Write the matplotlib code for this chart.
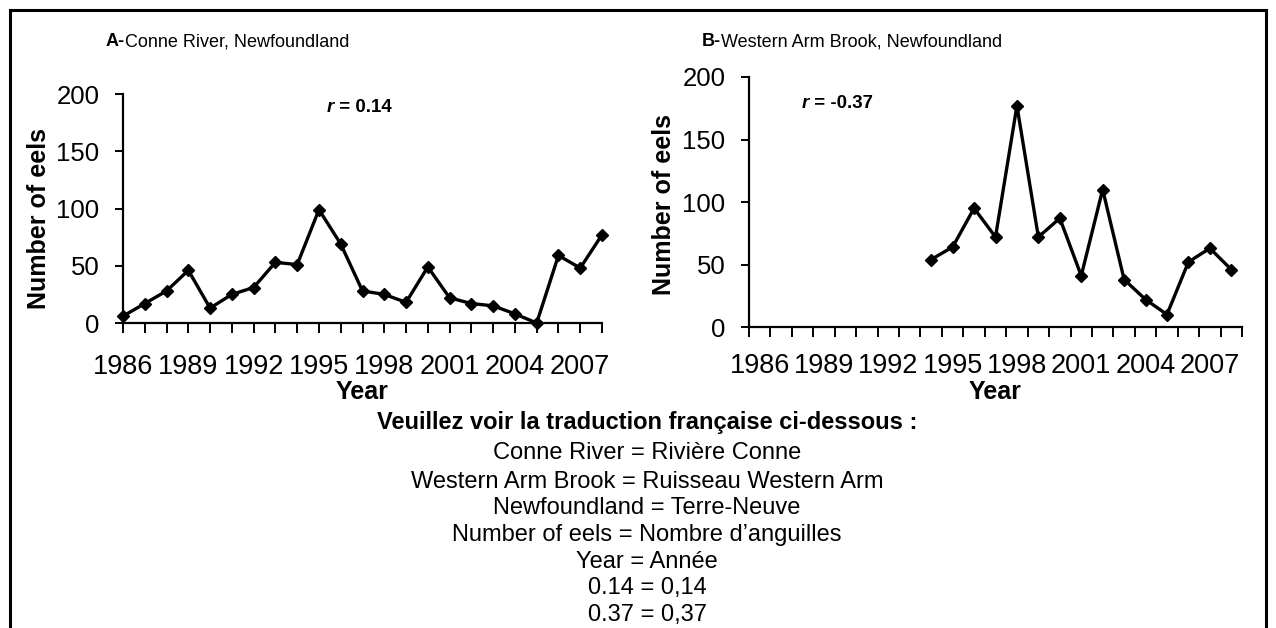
import matplotlib
matplotlib.use("Agg")
import matplotlib.pyplot as plt
from matplotlib.lines import Line2D

plt.rcParams["font.family"] = ["Liberation Sans", "DejaVu Sans"]

# ---- data ----
years_a = list(range(1986, 2009))
conne = [6, 17, 28, 46, 13, 25, 31, 53, 51, 99, 69, 28, 25, 18, 49, 22,
         17, 15, 8, 0, 59, 48, 77]

years_b = list(range(1994, 2009))
western = [54, 64, 95, 72, 177, 72, 87, 41, 110, 38, 22, 10, 52, 63, 46]

all_years = list(range(1986, 2009))
label_years = list(range(1986, 2008, 3))
y_ticks = [0, 50, 100, 150, 200]

titles = [("A-", "Conne River, Newfoundland"),
          ("B-", "Western Arm Brook, Newfoundland")]
r_texts = [" = 0.14", " = -0.37"]
y_label = "Number of eels"
x_label = "Year"

notes_bold = "Veuillez voir la traduction française ci-dessous :"
notes = [
    "Conne River = Rivière Conne",
    "Western Arm Brook = Ruisseau Western Arm",
    "Newfoundland = Terre-Neuve",
    "Number of eels = Nombre d\u2019anguilles",
    "Year = Année",
    "0.14 = 0,14",
    "0.37 = 0,37",
]

W, H = 1276, 628
fig = plt.figure(figsize=(W / 100, H / 100), dpi=100)
fig.patch.set_facecolor("white")


def px_box(left, right, top, bottom):
    return [left / W, 1 - bottom / H, (right - left) / W, (bottom - top) / H]


def style_axes(ax):
    for s in ("top", "right"):
        ax.spines[s].set_visible(False)
    for s in ("left", "bottom"):
        ax.spines[s].set_linewidth(1.6)
        ax.spines[s].set_color("black")
    ax.set_ylim(0, 200)
    ax.set_yticks(y_ticks)
    ax.tick_params(axis="y", direction="out", length=6, width=1.4,
                   labelsize=18.5, pad=11)
    ax.tick_params(axis="x", which="both", direction="out", width=1.4,
                   labelsize=19.5, pad=15)


# ---- panel A ----
ax_a = fig.add_axes(px_box(123, 602, 94, 323))
style_axes(ax_a)
ax_a.plot(years_a, conne, color="black", linewidth=2.4, marker="D",
          markersize=6.5, clip_on=False)
ax_a.set_xlim(1986, 2008)
ax_a.set_xticks(label_years)
ax_a.set_xticks(all_years, minor=True)
ax_a.set_xticklabels([str(y) for y in label_years])
ax_a.tick_params(axis="x", which="both", length=7)

# ---- panel B ----
ax_b = fig.add_axes(px_box(749, 1242, 77, 327))
style_axes(ax_b)
ax_b.plot(years_b, western, color="black", linewidth=2.4, marker="D",
          markersize=6.5, clip_on=False)
ax_b.set_xlim(all_years[0] - 0.5, all_years[-1] + 0.5)
ax_b.set_xticks(label_years)
ax_b.set_xticklabels([str(y) for y in label_years])
ax_b.set_xticks([y - 0.5 for y in all_years] + [all_years[-1] + 0.5],
                minor=True)
ax_b.tick_params(axis="x", which="major", length=0, pad=19)
ax_b.tick_params(axis="x", which="minor", length=7)

# axis labels
for ax in (ax_a, ax_b):
    ax.set_ylabel(y_label, fontsize=18, fontweight="bold")
    ax.set_xlabel(x_label, fontsize=18, fontweight="bold", va="center")
ax_a.xaxis.set_label_coords(0.5, (323 - 392) / 229)
ax_b.xaxis.set_label_coords(0.5, (327 - 392) / 250)
ax_a.yaxis.set_label_coords((51 - 123) / 479, 0.455)
ax_b.yaxis.set_label_coords((676 - 749) / 493, 0.49)

fig.canvas.draw()
renderer = fig.canvas.get_renderer()


def two_part(x, y, first, rest, size, first_style, rest_weight):
    t1 = fig.text(x / W, 1 - y / H, first, fontsize=size, va="center",
                  ha="left", fontweight="bold", fontstyle=first_style)
    bb = t1.get_window_extent(renderer=renderer)
    fig.text(bb.x1 / W, 1 - y / H, rest, fontsize=size, va="center",
             ha="left", fontweight=rest_weight)


# panel titles
two_part(106, 42, titles[0][0], titles[0][1], 13, "normal", "normal")
two_part(702, 42, titles[1][0], titles[1][1], 13, "normal", "normal")

# correlation labels
two_part(327, 107, "r", r_texts[0], 13.5, "italic", "bold")
two_part(802, 103, "r", r_texts[1], 13.5, "italic", "bold")

# translation block
cx = 647 / W
fig.text(cx, 1 - 422 / H, notes_bold, fontsize=17, fontweight="bold",
         ha="center", va="center")
line_y = [453, 481.5, 508.3, 535, 561.7, 588.3, 615]
for yy, line in zip(line_y, notes):
    fig.text(cx, 1 - yy / H, line, fontsize=17, ha="center", va="center")

# outer frame
lw = 2.2
x0, x1, y0 = 10 / W, 1266 / W, 1 - 10 / H
fig.add_artist(Line2D([x0, x1], [y0, y0], color="black", linewidth=lw,
                      transform=fig.transFigure))
fig.add_artist(Line2D([x0, x0], [y0, 0], color="black", linewidth=lw,
                      transform=fig.transFigure))
fig.add_artist(Line2D([x1, x1], [y0, 0], color="black", linewidth=lw,
                      transform=fig.transFigure))

fig.savefig("out.png", dpi=100, facecolor="white")
